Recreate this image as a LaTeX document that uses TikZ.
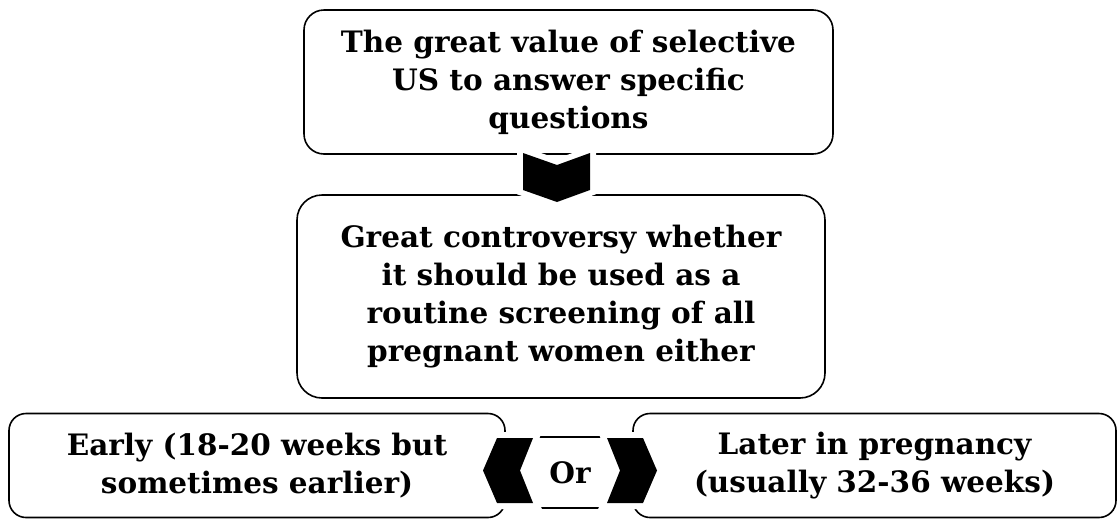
\documentclass[tikz,border=0pt]{standalone}
\usepackage{fontspec}
\setmainfont{DejaVu Serif}
\usepackage{tikz}
\usetikzlibrary{positioning}
\tikzset{
  box-base/.style={draw=black,line width=1.6pt,fill=white,align=center,
    font=\fontsize{29.5}{38}\selectfont\bfseries,inner sep=0pt},
  box-top/.style={box-base,rounded corners=20pt,minimum width=529pt,minimum height=144pt},
  box-mid/.style={box-base,rounded corners=25pt,minimum width=528pt,minimum height=203pt},
  box-low/.style={box-base,rounded corners=17pt,minimum height=104pt},
  box-or/.style={box-base,minimum width=90pt,minimum height=71pt},
  % chevrons get a white halo so they cut the box borders
  chevron/.style={fill=black,preaction={draw=white,line width=12pt,line join=miter}},
}
\begin{document}
\begin{tikzpicture}[x=1pt,y=-1pt]
  \useasboundingbox (0,0) rectangle (1118,520);
  \node[box-top] (value) at (568.5,82) {The great value of selective\\US to answer specific\\questions};
  \node[box-mid] (debate) at (561,296.5) {Great controversy whether\\it should be used as a\\routine screening of all\\pregnant women either};
  \node[box-low,minimum width=496pt] (early) at (257,465.5) {Early (18-20 weeks but\\sometimes earlier)};
  \node[box-low,minimum width=483pt] (later) at (874.5,465.5) {Later in pregnancy\\(usually 32-36 weeks)};
  \node[box-or] (or) at (570,472.5) {Or};
  % block arrows
  \fill[chevron,shift={(556.5,177.5)}] (-33.5,-24.5) -- (0.5,-12.5) -- (33.5,-24.5)
    -- (33.5,12.5) -- (0.5,24.5) -- (-33.5,12.5) -- cycle;
  \fill[chevron,shift={(508,470.5)}] (-25,0) -- (-11,-32.5) -- (25,-32.5)
    -- (12,0) -- (25,32.5) -- (-11,32.5) -- cycle;
  \fill[chevron,shift={(632,470.5)}] (-25,-32.5) -- (11,-32.5) -- (25,0)
    -- (11,32.5) -- (-25,32.5) -- (-12,0) -- cycle;
\end{tikzpicture}
\end{document}
